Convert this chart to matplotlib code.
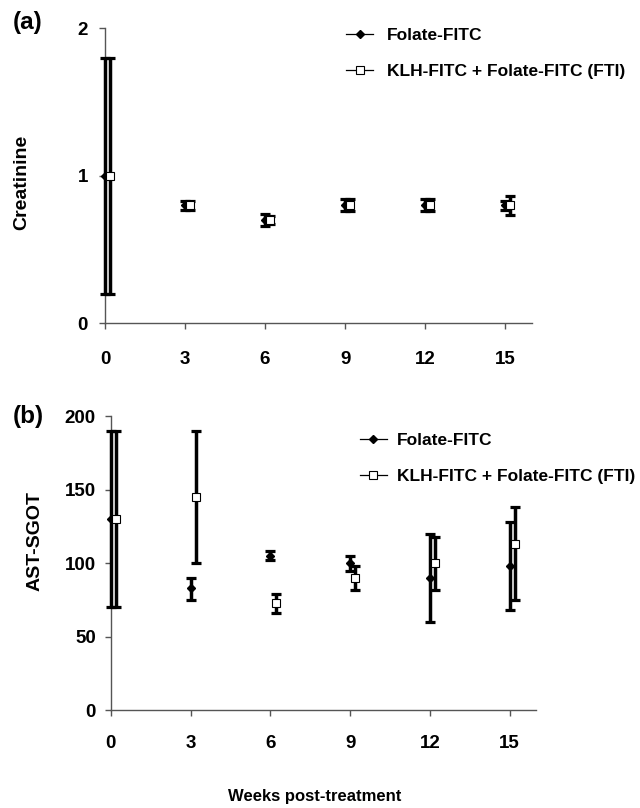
import numpy as np
import matplotlib
matplotlib.use("Agg")
import matplotlib.pyplot as plt
from matplotlib.lines import Line2D

# --------------------------------------------------------------
# Data
# --------------------------------------------------------------
weeks = [0, 3, 6, 9, 12, 15]
klh_shift = 0.2  # KLH series drawn slightly to the right

creat_folate = [1.0, 0.80, 0.70, 0.80, 0.80, 0.80]
creat_folate_err = [0.8, 0.03, 0.04, 0.04, 0.04, 0.03]
creat_klh = [1.0, 0.80, 0.70, 0.80, 0.80, 0.80]
creat_klh_err = [0.8, 0.03, 0.03, 0.04, 0.04, 0.065]

ast_folate = [130, 83, 105, 100, 90, 98]
ast_folate_lo = [60, 8, 3, 5, 30, 30]
ast_folate_hi = [60, 7, 3, 5, 30, 30]
ast_klh = [130, 145, 73, 90, 100, 113]
ast_klh_lo = [60, 45, 7, 8, 18, 38]
ast_klh_hi = [60, 45, 6, 8, 18, 25]

labels = ["Folate-FITC", "KLH-FITC + Folate-FITC (FTI)"]

# --------------------------------------------------------------
# Style
# --------------------------------------------------------------
plt.rcParams["font.family"] = ["Liberation Sans", "DejaVu Sans"]
plt.rcParams["font.weight"] = "bold"
plt.rcParams["axes.labelweight"] = "bold"

fig = plt.figure(figsize=(6.4, 8.08), dpi=100)
ax_a = fig.add_axes([0.164, 0.600, 0.667, 0.365])
ax_b = fig.add_axes([0.173, 0.121, 0.665, 0.364])

err_kw = dict(fmt="none", ecolor="black", elinewidth=2.5, capsize=3.3,
              capthick=2.3, clip_on=False, zorder=3)


def draw_panel(ax, f_y, f_err, k_y, k_err):
    xk = np.array(weeks) + klh_shift
    ax.errorbar(weeks, f_y, yerr=f_err, **err_kw)
    ax.errorbar(xk, k_y, yerr=k_err, **err_kw)
    ax.plot(weeks, f_y, "D", color="black", markersize=3.8, linestyle="none",
            clip_on=False, zorder=4)
    ax.plot(xk, k_y, "s", markerfacecolor="white", markeredgecolor="black",
            markersize=5.2, markeredgewidth=0.8, linestyle="none",
            clip_on=False, zorder=5)
    for side in ["top", "right"]:
        ax.spines[side].set_visible(False)
    for side in ["left", "bottom"]:
        ax.spines[side].set_color("#555555")
        ax.spines[side].set_linewidth(1.0)
    ax.set_xlim(0, 16)
    ax.set_xticks(weeks)
    ax.tick_params(axis="both", colors="#555555", labelcolor="black",
                   length=4, width=1, labelsize=13.5)


draw_panel(ax_a, creat_folate, creat_folate_err, creat_klh, creat_klh_err)
ax_a.set_ylim(0, 2)
ax_a.set_yticks([0, 1, 2])
ax_a.tick_params(axis="y", pad=8.2)
ax_a.tick_params(axis="x", pad=16)
ax_a.set_ylabel("Creatinine", fontsize=14, va="center")
ax_a.yaxis.set_label_coords(-0.195, 0.478)

draw_panel(ax_b, ast_folate, [ast_folate_lo, ast_folate_hi],
           ast_klh, [ast_klh_lo, ast_klh_hi])
ax_b.set_ylim(0, 200)
ax_b.set_yticks([0, 50, 100, 150, 200])
ax_b.tick_params(axis="y", pad=6.8)
ax_b.tick_params(axis="x", pad=14)
ax_b.set_ylabel("AST-SGOT", fontsize=14, va="center")
ax_b.yaxis.set_label_coords(-0.177, 0.575)

# legends: line + marker handles
handles = [
    Line2D([], [], color="black", lw=0.9, marker="D", markersize=3.8),
    Line2D([], [], color="black", lw=0.9, marker="s", markersize=5.2,
           markerfacecolor="white", markeredgewidth=0.8),
]
leg_kw = dict(frameon=False, loc="upper left", borderpad=0, borderaxespad=0,
              handlelength=1.55, labelspacing=1.22, fontsize=12.5)
fig.legend(handles, labels, bbox_to_anchor=(0.541, 0.9655),
           handletextpad=0.8, **leg_kw)
fig.legend(handles, labels, bbox_to_anchor=(0.5625, 0.4645),
           handletextpad=0.57, **leg_kw)

fig.text(0.02, 1 - 22 / 808, "(a)", fontsize=17.5, fontweight="bold", va="center")
fig.text(0.02, 1 - 417 / 808, "(b)", fontsize=17.5, fontweight="bold", va="center")
fig.text(0.492, 1 - 796 / 808, "Weeks post-treatment", fontsize=12,
         fontweight="bold", ha="center", va="center")

fig.savefig("out.png", dpi=100)
